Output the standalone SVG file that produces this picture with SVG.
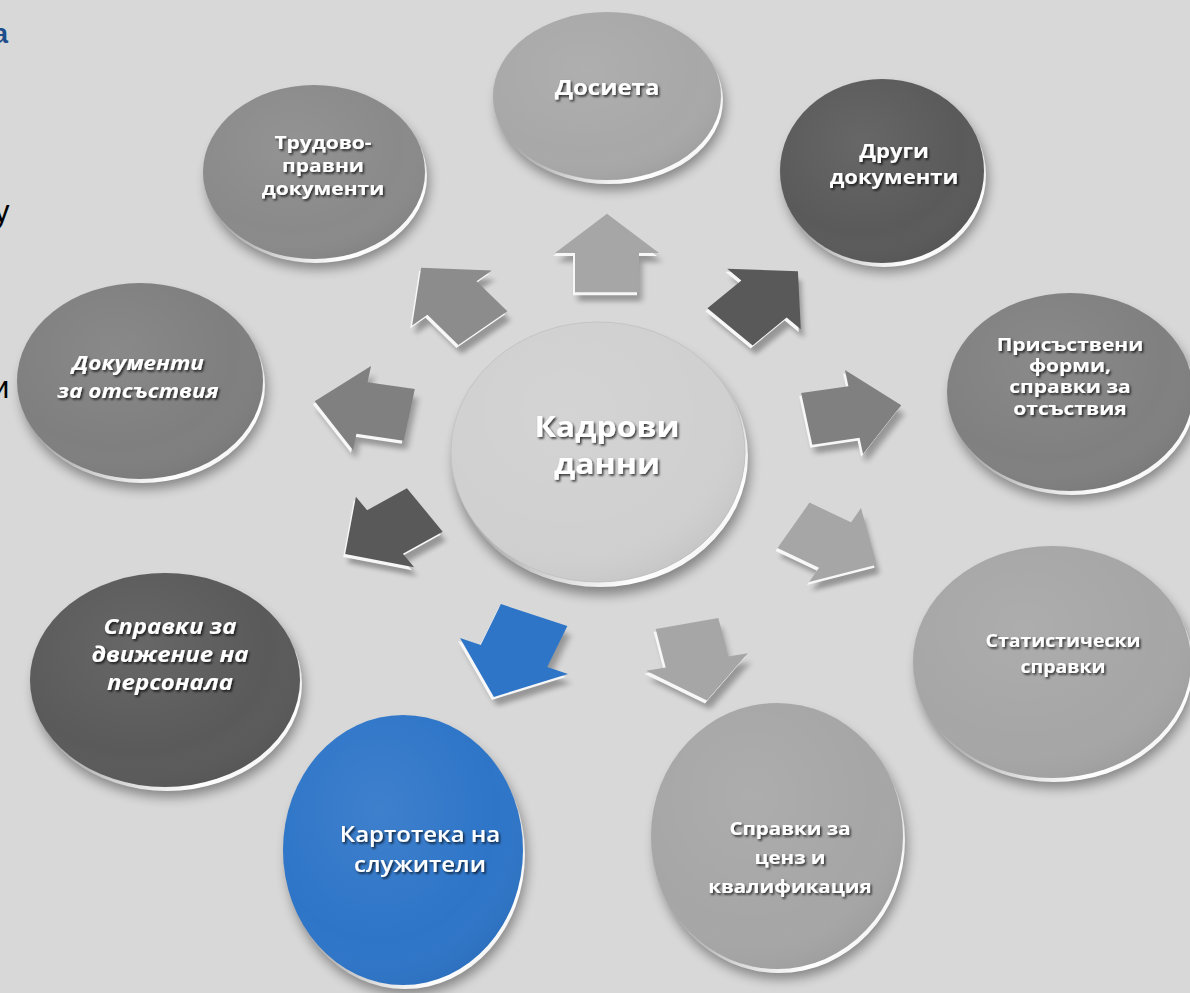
<svg xmlns="http://www.w3.org/2000/svg" xmlns:xlink="http://www.w3.org/1999/xlink" width="1190" height="993" viewBox="0 0 1190 993">
<defs>
  <style>
    .t{font-family:"Open Sans","Noto Sans","DejaVu Sans",sans-serif;font-weight:700;fill:#ffffff;text-anchor:middle;filter:url(#ts)}
    .ti{font-style:italic}
    .bt{font-family:"Liberation Sans",Arial,sans-serif}
    .sh{fill:#000;opacity:.38;filter:url(#blur)}
    .rim{fill:url(#rimg)}
    .gl{fill:url(#gloss)}
    .aw{fill:#f7f7f7}
    .as{fill:#000;opacity:.3;filter:url(#blur2)}
  </style>
  <filter id="blur" x="-30%" y="-30%" width="160%" height="160%"><feGaussianBlur stdDeviation="6"/></filter>
  <filter id="blur2" x="-30%" y="-30%" width="160%" height="160%"><feGaussianBlur stdDeviation="3"/></filter>
  <filter id="ts" x="-20%" y="-40%" width="140%" height="180%"><feDropShadow dx="1.5" dy="2" stdDeviation="1" flood-color="#000" flood-opacity=".75"/></filter>
  <linearGradient id="rimg" x1="0" y1="0" x2="1" y2="1">
    <stop offset="0" stop-color="#777"/>
    <stop offset=".55" stop-color="#bbb"/>
    <stop offset=".8" stop-color="#fff"/>
    <stop offset="1" stop-color="#ddd"/>
  </linearGradient>
  <radialGradient id="gloss" cx=".4" cy=".35" r=".7">
    <stop offset="0" stop-color="#fff" stop-opacity=".08"/>
    <stop offset=".7" stop-color="#fff" stop-opacity="0"/>
    <stop offset="1" stop-color="#000" stop-opacity=".06"/>
  </radialGradient>
  <path id="arr" d="M0,-48 L52,0 L32,0 L32,48 L-32,48 L-32,0 L-52,0 Z"/>
</defs>
<rect width="1190" height="993" fill="#d8d8d8"/>

<g id="bg-text">
  <text class="bt" x="-7" y="43" font-size="27" font-weight="700" fill="#1f4e8c">а</text>
  <text class="bt" x="-6" y="222" font-size="31" fill="#000">у</text>
  <text class="bt" x="-8" y="398" font-size="31" fill="#000">и</text>
</g>

<g id="connectors">
  <g id="a1" transform="translate(607,253)">
    <use xlink:href="#arr" class="as" transform="translate(3,9) scale(1,.82) rotate(0)"/>
    <use xlink:href="#arr" class="aw" transform="translate(-2,3) scale(1,.82) rotate(0)"/>
    <use xlink:href="#arr" fill="#a6a6a6" transform="scale(1,.82) rotate(0)"/>
  </g>
  <g id="a2" transform="translate(764,299)">
    <use xlink:href="#arr" class="as" transform="translate(3,9) scale(1,.82) rotate(45)"/>
    <use xlink:href="#arr" class="aw" transform="translate(-2,3) scale(1,.82) rotate(45)"/>
    <use xlink:href="#arr" fill="#595959" transform="scale(1,.82) rotate(45)"/>
  </g>
  <g id="a3" transform="translate(854,412)">
    <use xlink:href="#arr" class="as" transform="translate(3,9) scale(1,.82) rotate(80)"/>
    <use xlink:href="#arr" class="aw" transform="translate(-2,3) scale(1,.82) rotate(80)"/>
    <use xlink:href="#arr" fill="#808080" transform="scale(1,.82) rotate(80)"/>
  </g>
  <g id="a4" transform="translate(835,545)">
    <use xlink:href="#arr" class="as" transform="translate(3,9) scale(1,.82) rotate(120)"/>
    <use xlink:href="#arr" class="aw" transform="translate(-2,3) scale(1,.82) rotate(120)"/>
    <use xlink:href="#arr" fill="#a6a6a6" transform="scale(1,.82) rotate(120)"/>
  </g>
  <g id="a5" transform="translate(697,662)">
    <use xlink:href="#arr" class="as" transform="translate(3,9) scale(1,.82) rotate(168)"/>
    <use xlink:href="#arr" class="aw" transform="translate(-2,3) scale(1,.82) rotate(168)"/>
    <use xlink:href="#arr" fill="#a6a6a6" transform="scale(1,.82) rotate(168)"/>
  </g>
  <g id="a6" transform="translate(514,656)">
    <use xlink:href="#arr" class="as" transform="translate(3,9) scale(1.12,.92) rotate(202)"/>
    <use xlink:href="#arr" class="aw" transform="translate(-2,3) scale(1.12,.92) rotate(202)"/>
    <use xlink:href="#arr" fill="#2e75c8" transform="scale(1.12,.92) rotate(202)"/>
  </g>
  <g id="a7" transform="translate(385,532)">
    <use xlink:href="#arr" class="as" transform="translate(3,9) scale(1,.82) rotate(236)"/>
    <use xlink:href="#arr" class="aw" transform="translate(-2,3) scale(1,.82) rotate(236)"/>
    <use xlink:href="#arr" fill="#595959" transform="scale(1,.82) rotate(236)"/>
  </g>
  <g id="a8" transform="translate(362,408)">
    <use xlink:href="#arr" class="as" transform="translate(3,9) scale(1,.82) rotate(280)"/>
    <use xlink:href="#arr" class="aw" transform="translate(-2,3) scale(1,.82) rotate(280)"/>
    <use xlink:href="#arr" fill="#808080" transform="scale(1,.82) rotate(280)"/>
  </g>
  <g id="a9" transform="translate(452,298)">
    <use xlink:href="#arr" class="as" transform="translate(3,9) scale(1,.82) rotate(320)"/>
    <use xlink:href="#arr" class="aw" transform="translate(-2,3) scale(1,.82) rotate(320)"/>
    <use xlink:href="#arr" fill="#8c8c8c" transform="scale(1,.82) rotate(320)"/>
  </g>
</g>

<g id="n-center">
  <ellipse class="sh" cx="602" cy="464" rx="148" ry="131"/>
  <ellipse class="rim" cx="600" cy="456" rx="148" ry="131"/>
  <ellipse cx="598" cy="452" rx="147" ry="130" fill="#d0d0d0" stroke="#c4c4c4" stroke-width="1"/>
  <ellipse class="gl" cx="598" cy="452" rx="147" ry="130"/>
  <g transform="translate(607,437) scale(1,.88)">
    <text class="t" font-size="32"><tspan x="0" y="0">Кадрови</tspan><tspan x="0" y="42">данни</tspan></text>
  </g>
</g>

<g id="n-dosieta">
  <ellipse class="sh" cx="611" cy="106" rx="114" ry="84"/>
  <ellipse class="rim" cx="609" cy="100" rx="114" ry="84"/>
  <ellipse cx="607" cy="96" rx="114" ry="84" fill="#a8a8a8"/>
  <ellipse class="gl" cx="607" cy="96" rx="114" ry="84"/>
  <g transform="translate(607,95) scale(1,.88)">
    <text class="t" font-size="24"><tspan x="0" y="0">Досиета</tspan></text>
  </g>
</g>

<g id="n-drugi">
  <ellipse class="sh" cx="886" cy="180" rx="102" ry="92"/>
  <ellipse class="rim" cx="884" cy="175" rx="102" ry="92"/>
  <ellipse cx="882" cy="171" rx="102" ry="92" fill="#5a5a5a"/>
  <ellipse class="gl" cx="882" cy="171" rx="102" ry="92"/>
  <g transform="translate(894,158) scale(1,.88)">
    <text class="t" font-size="22"><tspan x="0" y="0">Други</tspan><tspan x="0" y="29">документи</tspan></text>
  </g>
</g>

<g id="n-prisastveni">
  <ellipse class="sh" cx="1074" cy="402" rx="123" ry="99"/>
  <ellipse class="rim" cx="1072" cy="396" rx="123" ry="99"/>
  <ellipse cx="1070" cy="392" rx="123" ry="99" fill="#808080"/>
  <ellipse class="gl" cx="1070" cy="392" rx="123" ry="99"/>
  <g transform="translate(1070,351) scale(1,.85)">
    <text class="t" font-size="21"><tspan x="0" y="0">Присъствени</tspan><tspan x="0" y="25">форми,</tspan><tspan x="0" y="50">справки за</tspan><tspan x="0" y="75">отсъствия</tspan></text>
  </g>
</g>

<g id="n-statisticheski">
  <ellipse class="sh" cx="1056" cy="672" rx="139" ry="116"/>
  <ellipse class="rim" cx="1054" cy="666" rx="139" ry="116"/>
  <ellipse cx="1052" cy="662" rx="139" ry="116" fill="#a6a6a6"/>
  <ellipse class="gl" cx="1052" cy="662" rx="139" ry="116"/>
  <g transform="translate(1063,647) scale(1,.88)">
    <text class="t" font-size="19.5"><tspan x="0" y="0">Статистически</tspan><tspan x="0" y="30">справки</tspan></text>
  </g>
</g>

<g id="n-cenz">
  <ellipse class="sh" cx="781" cy="846" rx="126" ry="133"/>
  <ellipse class="rim" cx="779" cy="840" rx="126" ry="133"/>
  <ellipse cx="777" cy="836" rx="126" ry="133" fill="#a6a6a6"/>
  <ellipse class="gl" cx="777" cy="836" rx="126" ry="133"/>
  <g transform="translate(790,835) scale(1,.88)">
    <text class="t" font-size="20.5"><tspan x="0" y="0">Справки за</tspan><tspan x="0" y="33">ценз и</tspan><tspan x="0" y="66">квалификация</tspan></text>
  </g>
</g>

<g id="n-kartoteka">
  <ellipse class="sh" cx="407" cy="860" rx="120" ry="135"/>
  <ellipse class="rim" cx="405" cy="854" rx="120" ry="135"/>
  <ellipse cx="403" cy="850" rx="120" ry="135" fill="#2e75c8"/>
  <ellipse class="gl" cx="403" cy="850" rx="120" ry="135"/>
  <g transform="translate(420,842) scale(1,.88)">
    <text class="t" font-size="24" style="font-weight:600"><tspan x="0" y="0">Картотека на</tspan><tspan x="0" y="34">служители</tspan></text>
  </g>
</g>

<g id="n-dvizhenie">
  <ellipse class="sh" cx="169" cy="690" rx="135" ry="107"/>
  <ellipse class="rim" cx="167" cy="684" rx="135" ry="107"/>
  <ellipse cx="165" cy="680" rx="135" ry="107" fill="#5a5a5a"/>
  <ellipse class="gl" cx="165" cy="680" rx="135" ry="107"/>
  <g transform="translate(170,634) scale(1,.88)">
    <text class="t ti" font-size="24"><tspan x="0" y="0">Справки за</tspan><tspan x="0" y="32">движение на</tspan><tspan x="0" y="64">персонала</tspan></text>
  </g>
</g>

<g id="n-otsastviya">
  <ellipse class="sh" cx="144" cy="391" rx="123" ry="98"/>
  <ellipse class="rim" cx="142" cy="385" rx="123" ry="98"/>
  <ellipse cx="140" cy="381" rx="123" ry="98" fill="#7f7f7f"/>
  <ellipse class="gl" cx="140" cy="381" rx="123" ry="98"/>
  <g transform="translate(138,370) scale(1,.88)">
    <text class="t ti" font-size="22.5"><tspan x="0" y="0">Документи</tspan><tspan x="0" y="32">за отсъствия</tspan></text>
  </g>
</g>

<g id="n-trudovo">
  <ellipse class="sh" cx="318" cy="182" rx="111" ry="87"/>
  <ellipse class="rim" cx="316" cy="176" rx="111" ry="87"/>
  <ellipse cx="314" cy="172" rx="111" ry="87" fill="#8a8a8a"/>
  <ellipse class="gl" cx="314" cy="172" rx="111" ry="87"/>
  <g transform="translate(323,149) scale(1,.88)">
    <text class="t" font-size="21"><tspan x="0" y="0">Трудово-</tspan><tspan x="0" y="26">правни</tspan><tspan x="0" y="52">документи</tspan></text>
  </g>
</g>
</svg>
